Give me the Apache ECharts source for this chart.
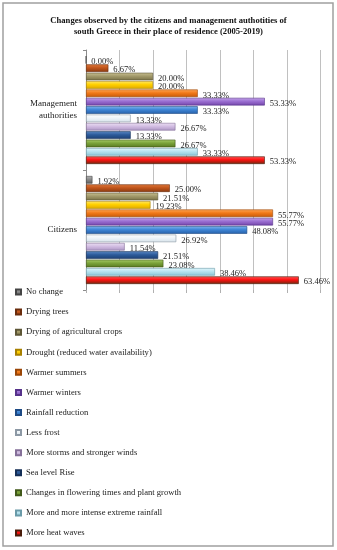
<!DOCTYPE html>
<html>
<head>
<meta charset="utf-8">
<script src="https://cdn.jsdelivr.net/npm/echarts@6/dist/echarts.min.js"></script>
<style>
html,body{margin:0;padding:0;background:#fff;}
#chart{width:337px;height:550px;}
</style>
</head>
<body>
<div id="chart"></div>
<script>
var categories = ['Citizens', 'Management authorities'];
var seriesNames = [
  'No change',
  'Drying trees',
  'Drying of agricultural crops',
  'Drought (reduced water availability)',
  'Warmer summers',
  'Warmer winters',
  'Rainfall reduction',
  'Less frost',
  'More storms and stronger winds',
  'Sea level Rise',
  'Changes in flowering times and plant growth',
  'More and more intense extreme rainfall',
  'More heat waves'
];
// values per category: [Citizens, Management authorities]
var noChange = [1.92, 0.00];
var dryingTrees = [25.00, 6.67];
var dryingCrops = [21.51, 20.00];
var drought = [19.23, 20.00];
var warmerSummers = [55.77, 33.33];
var warmerWinters = [55.77, 53.33];
var rainfallReduction = [48.08, 33.33];
var lessFrost = [26.92, 13.33];
var moreStorms = [11.54, 26.67];
var seaLevelRise = [21.51, 13.33];
var floweringChanges = [23.08, 26.67];
var intenseRainfall = [38.46, 33.33];
var heatWaves = [63.46, 53.33];
var seriesValues = [noChange, dryingTrees, dryingCrops, drought, warmerSummers, warmerWinters,
  rainfallReduction, lessFrost, moreStorms, seaLevelRise, floweringChanges, intenseRainfall, heatWaves];

// gradient styles: [top, middle, bottom, border]
var palette = [
  ['#b5b5b5', '#8a8a8a', '#5e5e5e', '#444'],
  ['#e07a3c', '#c2561c', '#8a3a10', '#6a2c0c'],
  ['#c9c092', '#a39a6a', '#7a7248', '#5d5636'],
  ['#ffe866', '#ffd000', '#e0aa00', '#a88000'],
  ['#ffa95a', '#f27a1a', '#c75a08', '#9a4606'],
  ['#c3a3ea', '#9b6fd2', '#7446aa', '#56328a'],
  ['#7db4ee', '#3f86d6', '#2760a8', '#1d4a84'],
  ['#ffffff', '#eef4f8', '#d6e2ea', '#8c98a4'],
  ['#ece0f4', '#d2bde2', '#ad96c4', '#857099'],
  ['#5e8cc8', '#2d5b9b', '#1c3f72', '#142e56'],
  ['#a8cc6a', '#7ba33a', '#587a22', '#41591a'],
  ['#e4f7fc', '#b7e3ef', '#8cc6d6', '#6a9aa8'],
  ['#ff5a5a', '#ff1010', '#6e2a10', '#4a1c0a']
];

function grad(p) {
  return new echarts.graphic.LinearGradient(0, 0, 0, 1, [
    {offset: 0, color: p[0]}, {offset: 0.45, color: p[1]}, {offset: 1, color: p[2]}
  ]);
}

var serif = 'Liberation Serif';
var series = seriesNames.map(function (name, i) {
  return {
    name: name,
    type: 'bar',
    data: seriesValues[i],
    barGap: '10%',
    barCategoryGap: '10%',
    itemStyle: {color: grad(palette[i]), borderColor: palette[i][3], borderWidth: 0.6},
    label: {
      show: true,
      position: 'right',
      distance: 5,
      offset: [0, 2],
      formatter: function (p) { return p.value.toFixed(2) + '%'; },
      fontFamily: serif,
      fontSize: 8.5,
      color: '#222'
    },
    emphasis: {disabled: true}
  };
});

var chart = echarts.init(document.getElementById('chart'), null, {renderer: 'canvas'});
chart.setOption({
  animation: false,
  backgroundColor: '#fff',
  title: {
    text: 'Changes observed by the citizens and management authotities of\nsouth Greece in their place of residence (2005-2019)',
    left: 'center',
    top: 16,
    padding: [0, 0, 0, 27],
    textStyle: {fontFamily: serif, fontSize: 8.6, fontWeight: 'bold', color: '#111', lineHeight: 10.5, align: 'center'}
  },
  graphic: [{
    type: 'rect',
    shape: {x: 3, y: 3, width: 330, height: 543},
    style: {fill: 'none', stroke: '#a0a0a0', lineWidth: 1.5},
    silent: true
  }],
  legend: {
    orient: 'vertical',
    left: 15,
    top: 287,
    padding: 0,
    itemWidth: 5,
    itemHeight: 5,
    itemGap: 10.08,
    icon: 'rect',
    selectedMode: false,
    textStyle: {fontFamily: serif, fontSize: 8.6, color: '#222', lineHeight: 10}
  },
  grid: {left: 86, right: 16.3, top: 50, bottom: 260, containLabel: false},
  xAxis: {
    type: 'value',
    min: 0, max: 70, interval: 10,
    axisLabel: {show: false},
    axisLine: {show: false},
    axisTick: {show: true, length: 3, lineStyle: {color: '#b0b0b0'}},
    splitLine: {show: true, lineStyle: {color: '#c0c0c0', width: 1}}
  },
  yAxis: {
    type: 'category',
    data: categories,
    axisLine: {show: true, lineStyle: {color: '#8c8c8c'}},
    axisTick: {show: true, length: 3, lineStyle: {color: '#8c8c8c'}},
    axisLabel: {
      fontFamily: serif, fontSize: 9, color: '#222', margin: 9, lineHeight: 12,
      formatter: function (v) { return v.replace(' ', '\n'); }
    }
  },
  series: series
});
</script>
</body>
</html>
